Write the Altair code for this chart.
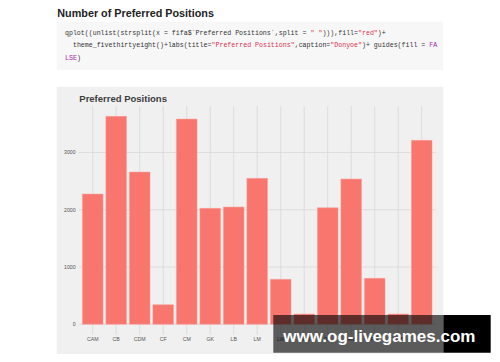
import altair as alt
import pandas as pd

# ---- data ----
positions = ["CAM", "CB", "CDM", "CF", "CM", "GK", "LB", "LM",
             "LW", "LWB", "RB", "RM", "RW", "RWB", "ST"]
counts = [2274, 3630, 2658, 342, 3583, 2024, 2047, 2548,
          785, 180, 2035, 2536, 803, 180, 3211]
y_ticks = [0, 1000, 2000, 3000]

page_heading = "Number of Preferred Positions"
chart_title = "Preferred Positions"
watermark = "www.og-livegames.com"

DARK = "#333333"
STR = "#D8304F"
KW = "#A21FA5"
# (indent in characters, [(segment, colour), ...])
code_lines = [
    (0, [("qplot((unlist(strsplit(x = fifa$`Preferred Positions`,split = ", DARK),
         ('" "', STR), (")))," , DARK), ("fill=", DARK), ('"red"', STR), (")+", DARK)]),
    (2, [("theme_fivethirtyeight()+labs(title=", DARK), ('"Preferred Positions"', STR),
         (",caption=", DARK), ('"Donyoe"', STR), (")+ guides(fill = ", DARK), ("FA", KW)]),
    (0, [("LSE", KW), (")", DARK)]),
]

bars_df = pd.DataFrame({"pos": positions, "n": counts})
ticks_df = pd.DataFrame({"t": y_ticks})
one = pd.DataFrame({"a": [0]})

W, H = 357.2, 228.7
PAD = {"left": 70.6, "top": 98, "right": 484 - 70.6 - W, "bottom": 346 - 98 - H}

FONT = "Liberation Sans"
xs = alt.Scale(domain=positions, paddingInner=0.12, paddingOuter=0.16)
ys = alt.Scale(domain=[-181.5, 3811], nice=False, zero=False)


def rect(x1, x2, y1, y2, color, opacity=1.0):
    return alt.Chart(one).mark_rect(color=color, opacity=opacity).encode(
        x=alt.value(x1), x2=alt.value(x2), y=alt.value(y1), y2=alt.value(y2))


def text(x, y, s, size, color, weight="normal", font=FONT):
    return alt.Chart(one).mark_text(
        align="left", baseline="alphabetic", fontSize=size, color=color,
        fontWeight=weight, font=font).encode(
        x=alt.value(x), y=alt.value(y), text=alt.value(s))


layers = []
# page heading and code block
layers.append(text(-21.3, -89.5, page_heading, 10.8, "#222222", "bold"))
layers.append(rect(-21.9, 364.7, -84.3, -36, "#F7F7F7"))
CW = 3.96
line_y = [-71.3, -58.7, -45.7]
for li, (indent, segs) in enumerate(code_lines):
    idx = indent
    for s, c in segs:
        layers.append(text(-13.6 + idx * CW, line_y[li], s, 6.6, c, font="Liberation Mono"))
        idx += len(s)

# panel background
layers.append(rect(-21.9, 364.7, -19.3, 251.7, "#F0F0F0"))

# gridlines
layers.append(alt.Chart(ticks_df).mark_rule(color="#D8D8D8", strokeWidth=0.8).encode(
    y=alt.Y("t:Q", scale=ys, axis=None)))
layers.append(alt.Chart(bars_df).mark_rule(color="#D8D8D8", strokeWidth=0.8).encode(
    x=alt.X("pos:N", scale=xs, sort=positions, axis=None)))

# bars
layers.append(alt.Chart(bars_df).mark_bar(color="#F8766D", stroke="#F9A29C", strokeWidth=0.5).encode(
    x=alt.X("pos:N", scale=xs, sort=positions, axis=None),
    y=alt.Y("n:Q", scale=ys, axis=None),
))

# axis labels (drawn as text through the same scales)
layers.append(alt.Chart(bars_df).mark_text(
    baseline="top", align="center", fontSize=5.2, color="#555555", font=FONT).encode(
    x=alt.X("pos:N", scale=xs, sort=positions, axis=None),
    y=alt.value(H + 2.6), text="pos:N"))
layers.append(alt.Chart(ticks_df).mark_text(
    baseline="middle", align="right", fontSize=5.2, color="#555555", font=FONT).encode(
    y=alt.Y("t:Q", scale=ys, axis=None),
    x=alt.value(-3), text=alt.Text("t:Q", format="d")))

# chart title
layers.append(text(0.7, -4, chart_title, 9.5, "#3C3C3C", "bold"))

# watermark
layers.append(rect(194.7, 364.7, 209, 246.7, "#000000", 0.62))
layers.append(rect(364.7, 412.1, 209, 246.7, "#000000"))
layers.append(text(204.7, 235.7, watermark, 17, "#FFFFFF", "bold"))

chart = alt.layer(*layers).properties(
    width=W, height=H, padding=PAD, autosize=alt.AutoSizeParams(type="none"),
    background="#FFFFFF",
).configure_view(stroke=None)

chart.save("out.html", embed_options={"renderer": "svg", "actions": False})
